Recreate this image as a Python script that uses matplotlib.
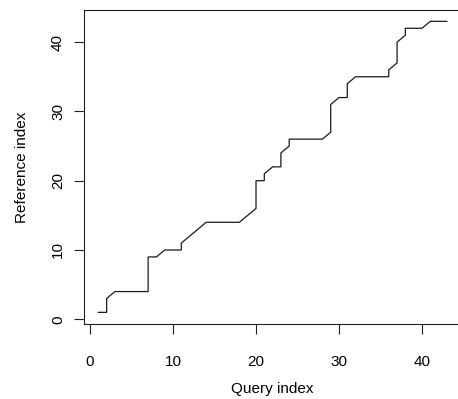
import matplotlib
matplotlib.use("Agg")
import matplotlib.pyplot as plt

plt.rcParams['font.family'] = ['Liberation Sans', 'DejaVu Sans']

# Warping path vertices (query index, reference index)
query_index = [1, 2, 2, 3, 7, 7, 8, 9, 11, 11, 14, 18, 20, 20, 21, 21, 22, 23, 23, 24,
               24, 28, 29, 29, 30, 31, 31, 32, 36, 36, 37, 37, 38, 38, 40, 41, 43]
reference_index = [1, 1, 3, 4, 4, 9, 9, 10, 10, 11, 14, 14, 16, 20, 20, 21, 22, 22, 24, 25,
                   26, 26, 27, 31, 32, 32, 34, 35, 35, 36, 37, 40, 41, 42, 42, 43, 43]

x_ticks = [0, 10, 20, 30, 40]
y_ticks = [0, 10, 20, 30, 40]

W, H = 458, 399
fig = plt.figure(figsize=(W / 100, H / 100), dpi=100)
left, right, top, bottom = 84.4, 460.8, 9.7, 324.0
ax = fig.add_axes([left / W, (H - bottom) / H, (right - left) / W, (bottom - top) / H])

ax.plot(query_index, reference_index, color='#1a1a1a', lw=0.9, solid_joinstyle='miter')

ax.set_xlim(-0.68, 44.68)
ax.set_ylim(-0.68, 44.68)
ax.set_xticks(x_ticks)
ax.set_yticks(y_ticks)
FS = 11
ax.tick_params(axis='x', length=7, width=0.8, pad=15, labelsize=FS, color='#222222')
ax.tick_params(axis='y', length=7, width=0.8, pad=7, labelsize=FS, color='#222222')
for lab in ax.get_yticklabels():
    lab.set_rotation(90)
    lab.set_va('center')

for s in ax.spines.values():
    s.set_linewidth(0.8)
    s.set_color('#222222')

ax.set_xlabel('Query index', fontsize=FS, labelpad=9.5)
ax.set_ylabel('Reference index', fontsize=FS, labelpad=16)

fig.savefig('out.png', dpi=100)
